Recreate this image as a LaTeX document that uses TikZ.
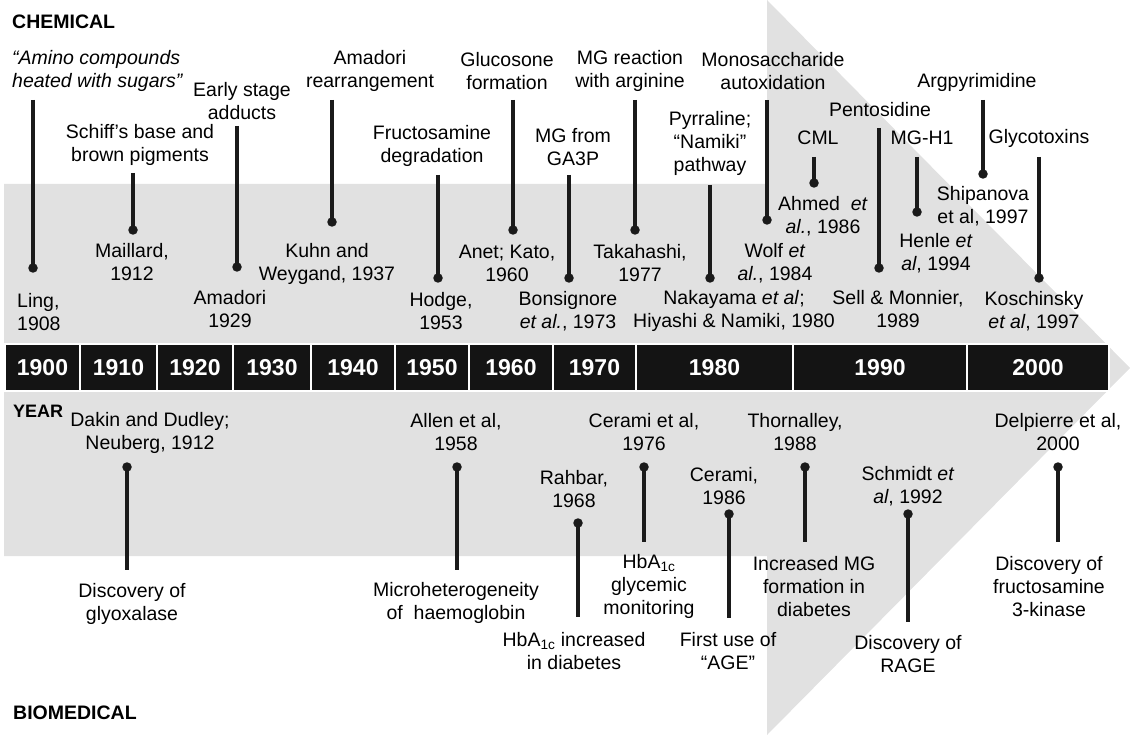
\documentclass[tikz,border=0pt]{standalone}
\usepackage{fontspec}
\setmainfont{Liberation Sans}
\definecolor{bandgray}{HTML}{E1E1E1}
\definecolor{barblack}{HTML}{141414}
\definecolor{stemblack}{HTML}{1A1A1A}
\begin{document}
\begin{tikzpicture}[x=1pt,y=-1pt,
  lab/.style={align=center,font=\fontsize{19.5}{23}\selectfont,inner sep=0pt},
  ital/.style={align=left,font=\itshape\fontsize{19.5}{23}\selectfont,inner sep=0pt},
  head/.style={font=\bfseries\fontsize{19.5}{23}\selectfont,inner sep=0pt,anchor=west},
  stem/.style={line width=3.5pt,draw=stemblack},
  tip/.style={circle,fill=stemblack,inner sep=0pt,minimum size=9.5pt},
  cell/.style={fill=barblack,draw=white,line width=2pt},
  yr/.style={font=\bfseries\fontsize{23}{27}\selectfont,text=white,inner sep=0pt}]
\useasboundingbox (0,0) rectangle (1130,735);
% background arrow
\fill[bandgray] (4,184) -- (767,184) -- (767,0) -- (1130,368) -- (767,735) -- (767,556) -- (4,556) -- cycle;
% year bar
\foreach \a/\b/\t [count=\i] in {5/80/1900,80/157/1910,157/233/1920,233/311/1930,311/395/1940,395/469/1950,469/553/1960,553/636/1970,636/793/1980,793/967/1990,967/1109/2000}{
  \draw[cell] (\a,344) rectangle (\b,391);
  \node[yr] (yr\i) at ({(\a+\b)/2},367.5) {\t};
}
% headings
\node[head] (chem) at (12,22) {CHEMICAL};
\node[head,font=\bfseries\fontsize{18}{22}\selectfont] (year) at (13,411) {YEAR};
\node[head] (biomed) at (13,713) {BIOMEDICAL};

% ---------- CHEMICAL ----------
\node[ital,anchor=west] (t1) at (12,71) {“Amino compounds\\heated with sugars”};
\coordinate (s1) at (33,100);
\node[tip] (d1) at (33,268) {};
\draw[stem] (s1) -- (d1.center);
\node[lab,align=left,anchor=west] (c1) at (17,312) {Ling,\\1908};

\node[lab] (t2) at (140,144.5) {Schiff’s base and\\brown pigments};
\coordinate (s2) at (133,173);
\node[tip] (d2) at (133,230) {};
\draw[stem] (s2) -- (d2.center);
\node[lab] (c2) at (132,262.5) {Maillard,\\1912};

\node[lab] (t3) at (242,101) {Early stage\\adducts};
\coordinate (s3) at (237,126);
\node[tip] (d3) at (237,267) {};
\draw[stem] (s3) -- (d3.center);
\node[lab] (c3) at (230,309.5) {Amadori\\1929};

\node[lab] (t4) at (370,71) {Amadori\\rearrangement};
\coordinate (s4) at (332,100);
\node[tip] (d4) at (332,222) {};
\draw[stem] (s4) -- (d4.center);
\node[lab] (c4) at (327,263.5) {Kuhn and\\Weygand, 1937};

\node[lab] (t5) at (432,146) {Fructosamine\\degradation};
\coordinate (s5) at (438,175);
\node[tip] (d5) at (438,278) {};
\draw[stem] (s5) -- (d5.center);
\node[lab] (c5) at (441,311) {Hodge,\\1953};

\node[lab] (t6) at (507,71) {Glucosone\\formation};
\coordinate (s6) at (513,100);
\node[tip] (d6) at (513,230) {};
\draw[stem] (s6) -- (d6.center);
\node[lab] (c6) at (507,263.5) {Anet; Kato,\\1960};

\node[lab] (t7) at (573,147.5) {MG from\\GA3P};
\coordinate (s7) at (569,175);
\node[tip] (d7) at (569,278) {};
\draw[stem] (s7) -- (d7.center);
\node[lab] (c7) at (568,311) {Bonsignore\\\textit{et al.}, 1973};

\node[lab] (t8) at (630,71) {MG reaction\\with arginine};
\coordinate (s8) at (635,100);
\node[tip] (d8) at (635,230) {};
\draw[stem] (s8) -- (d8.center);
\node[lab] (c8) at (640,263.5) {Takahashi,\\1977};

\node[lab] (t9) at (710,143.5) {Pyrraline;\\“Namiki”\\pathway};
\coordinate (s9) at (710,185);
\node[tip] (d9) at (710,278) {};
\draw[stem] (s9) -- (d9.center);
\node[lab] (c9) at (734,311) {Nakayama \textit{et al};\\Hiyashi \& Namiki, 1980};

\node[lab] (t10) at (773,71) {Monosaccharide\\autoxidation};
\coordinate (s10) at (767,100);
\node[tip] (d10) at (767,220) {};
\draw[stem] (s10) -- (d10.center);
\node[lab] (c10) at (775,263.5) {Wolf \textit{et}\\\textit{al.}, 1984};

\node[lab] (t11) at (818,138) {CML};
\coordinate (s11) at (814,157);
\node[tip] (d11) at (814,183) {};
\draw[stem] (s11) -- (d11.center);
\node[lab] (c11) at (823,216) {Ahmed~ \textit{et}\\\textit{al.}, 1986};

\node[lab] (t12) at (880,110) {Pentosidine};
\coordinate (s12) at (879,128);
\node[tip] (d12) at (879,268) {};
\draw[stem] (s12) -- (d12.center);
\node[lab] (c12) at (898,309.5) {Sell \& Monnier,\\1989};

\node[lab] (t13) at (922,138) {MG-H1};
\coordinate (s13) at (917,157);
\node[tip] (d13) at (917,212) {};
\draw[stem] (s13) -- (d13.center);
\node[lab] (c13) at (936,253.5) {Henle \textit{et}\\\textit{al}, 1994};

\node[lab] (t14) at (977,82) {Argpyrimidine};
\coordinate (s14) at (983,100);
\node[tip] (d14) at (983,174) {};
\draw[stem] (s14) -- (d14.center);
\node[lab] (c14) at (983,206.5) {Shipanova\\et al, 1997};

\node[lab] (t15) at (1039,138) {Glycotoxins};
\coordinate (s15) at (1039,157);
\node[tip] (d15) at (1039,278) {};
\draw[stem] (s15) -- (d15.center);
\node[lab] (c15) at (1034,311) {Koschinsky\\\textit{et al}, 1997};

% ---------- BIOMEDICAL ----------
\node[lab] (b1) at (150,432.5) {Dakin and Dudley;\\Neuberg, 1912};
\node[tip] (e1) at (127,467) {};
\coordinate (f1) at (127,570);
\draw[stem] (e1.center) -- (f1);
\node[lab] (g1) at (132,603.5) {Discovery of\\glyoxalase};

\node[lab] (b2) at (456,432.5) {Allen et al,\\1958};
\node[tip] (e2) at (457,467) {};
\coordinate (f2) at (457,570);
\draw[stem] (e2.center) -- (f2);
\node[lab] (g2) at (456,602.5) {Microheterogeneity\\of~ haemoglobin};

\node[lab] (b3) at (574,489.5) {Rahbar,\\1968};
\node[tip] (e3) at (578,523) {};
\coordinate (f3) at (578,617);
\draw[stem] (e3.center) -- (f3);
\node[lab] (g3) at (574,651) {HbA\textsubscript{1c} increased\\in diabetes};

\node[lab] (b4) at (644,432.5) {Cerami et al,\\1976};
\node[tip] (e4) at (644,467) {};
\coordinate (f4) at (644,542);
\draw[stem] (e4.center) -- (f4);
\node[lab] (g4) at (649,586.5) {HbA\textsubscript{1c}\\glycemic\\monitoring};

\node[lab] (b5) at (724,486) {Cerami,\\1986};
\node[tip] (e5) at (729,514) {};
\coordinate (f5) at (729,618);
\draw[stem] (e5.center) -- (f5);
\node[lab] (g5) at (728,651) {First use of\\“AGE”};

\node[lab] (b6) at (795,432.5) {Thornalley,\\1988};
\node[tip] (e6) at (805,467) {};
\coordinate (f6) at (805,542);
\draw[stem] (e6.center) -- (f6);
\node[lab] (g6) at (814,586.5) {Increased MG\\formation in\\diabetes};

\node[lab] (b7) at (908,486) {Schmidt \textit{et}\\\textit{al}, 1992};
\node[tip] (e7) at (908,514) {};
\coordinate (f7) at (908,622);
\draw[stem] (e7.center) -- (f7);
\node[lab] (g7) at (908,654.5) {Discovery of\\RAGE};

\node[lab] (b8) at (1058,432.5) {Delpierre et al,\\2000};
\node[tip] (e8) at (1058,467) {};
\coordinate (f8) at (1058,542);
\draw[stem] (e8.center) -- (f8);
\node[lab] (g8) at (1049,586.5) {Discovery of\\fructosamine\\3-kinase};
\end{tikzpicture}
\end{document}
